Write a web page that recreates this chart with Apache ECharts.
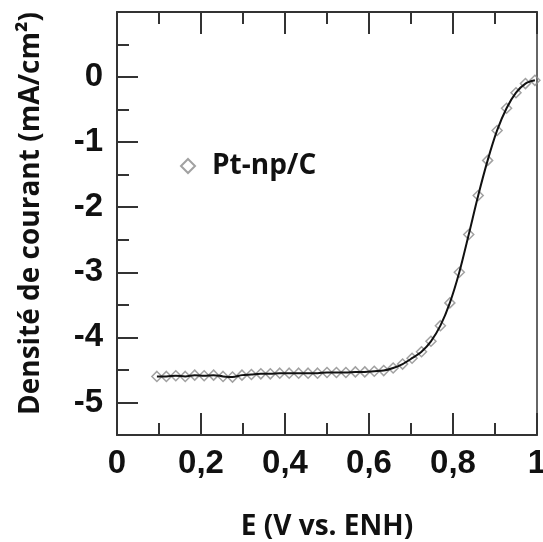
<!DOCTYPE html>
<html><head><meta charset="utf-8">
<script src="https://cdn.jsdelivr.net/npm/echarts@6/dist/echarts.min.js"></script>
<style>html,body{margin:0;padding:0;background:#fff}#c{width:543px;height:542px}</style>
</head><body><div id="c"></div>
<script>
const seriesName = 'Pt-np/C';
const potential = [0.095,0.1175,0.14,0.1625,0.185,0.2075,0.23,0.2525,0.275,0.2975,0.32,0.3425,0.365,0.3875,0.41,0.4325,0.455,0.4775,0.5,0.5225,0.545,0.5675,0.59,0.6125,0.635,0.6575,0.68,0.7025,0.725,0.7475,0.77,0.7925,0.815,0.8375,0.86,0.8825,0.905,0.9275,0.95,0.9725,0.995];
const current = [-4.60,-4.60,-4.59,-4.60,-4.58,-4.59,-4.58,-4.60,-4.61,-4.58,-4.57,-4.56,-4.56,-4.55,-4.55,-4.55,-4.55,-4.55,-4.54,-4.54,-4.54,-4.53,-4.53,-4.52,-4.51,-4.47,-4.41,-4.32,-4.22,-4.06,-3.82,-3.47,-3.00,-2.42,-1.82,-1.28,-0.82,-0.48,-0.24,-0.10,-0.05];
const yTicks = [-5,-4,-3,-2,-1,0];
const yMinorTicks = [-5.5,-4.5,-3.5,-2.5,-1.5,-0.5,0.5];
const xLabels = {0:'0',0.2:'0,2',0.4:'0,4',0.6:'0,6',0.8:'0,8',1:'1'};

const pts = potential.map((e,i)=>[e,current[i]]);
const frame = {color:'#333', width:2};
const labelFont = {fontFamily:'Liberation Sans', fontWeight:'bold', fontSize:33, color:'#111'};
const titleFont = {fontFamily:'Open Sans', fontWeight:'bold', fontSize:28, color:'#111'};

const chart = echarts.init(document.getElementById('c'), null, {renderer:'canvas'});
chart.setOption({
  animation:false,
  backgroundColor:'#fff',
  grid:{left:117, top:12, right:6, bottom:107, containLabel:false, outerBoundsMode:'none'},
  legend:{
    data:[{name:seriesName, icon:'diamond'}],
    left:175, top:147, itemWidth:14, itemHeight:14, itemGap:10,
    textStyle:{fontFamily:'Open Sans', fontWeight:'bold', fontSize:28, color:'#111', padding:[0,0,0,12]}
  },
  xAxis:[
    {type:'value', min:0, max:1, interval:0.2, position:'bottom',
     name:'E (V vs. ENH)', nameLocation:'middle', nameGap:78, nameTextStyle:titleFont,
     axisLine:{show:true, onZero:false, lineStyle:frame},
     axisTick:{show:true, inside:true, length:22, lineStyle:frame},
     minorTick:{show:true, splitNumber:2, length:12, lineStyle:frame},
     axisLabel:Object.assign({margin:12, formatter:v=>{const k=Math.round(v*10)/10; return xLabels[k]!==undefined?xLabels[k]:'';}}, labelFont),
     splitLine:{show:false}},
    {type:'value', min:0, max:1, interval:0.2, position:'top',
     axisLine:{show:true, onZero:false, lineStyle:frame},
     axisTick:{show:true, inside:true, length:22, lineStyle:frame},
     minorTick:{show:true, splitNumber:2, length:12, lineStyle:frame},
     axisLabel:{show:false}, splitLine:{show:false}}
  ],
  yAxis:[
    {type:'value', min:-5.5, max:1, position:'left',
     name:'Densité de courant (mA/cm²)', nameLocation:'middle', nameGap:72,
     nameTextStyle:Object.assign({padding:[0,0,0,20]}, titleFont),
     axisLine:{show:true, onZero:false, lineStyle:frame},
     axisTick:{show:true, inside:true, length:21, customValues:yTicks, lineStyle:frame},
     axisLabel:Object.assign({margin:14, customValues:yTicks, formatter:v=>String(v)}, labelFont),
     splitLine:{show:false}},
    {type:'value', min:-5.5, max:1, position:'left',
     axisLine:{show:false},
     axisTick:{show:true, inside:true, length:12, customValues:yMinorTicks, lineStyle:frame},
     axisLabel:{show:false}, splitLine:{show:false}},
    {type:'value', min:-5.5, max:1, position:'right',
     axisLine:{show:true, onZero:false, lineStyle:{color:'#666', width:2}},
     axisTick:{show:false}, axisLabel:{show:false}, splitLine:{show:false}}
  ],
  series:[
    {name:seriesName, type:'scatter', data:pts, symbol:'diamond', symbolSize:10,
     itemStyle:{color:'rgba(255,255,255,0)', borderColor:'#8a8a8a', borderWidth:1.5}, z:2},
    {name:'fit', type:'line', data:pts, smooth:0.3, showSymbol:false, symbol:'none',
     lineStyle:{color:'#111', width:2}, z:3}
  ]
});
</script></body></html>
